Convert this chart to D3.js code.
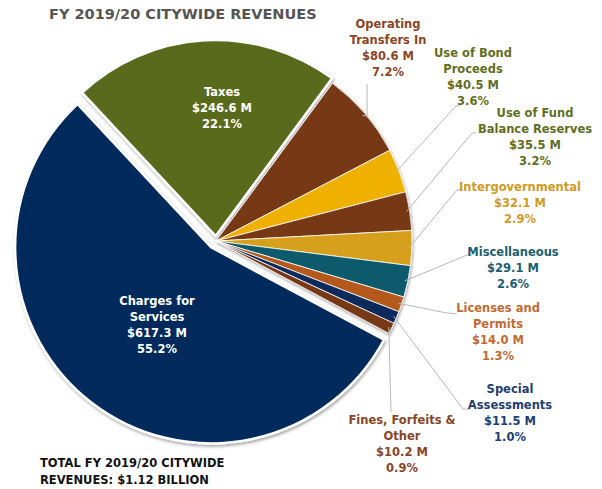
<!DOCTYPE html>
<html>
<head>
<meta charset="utf-8">
<script src="https://cdn.jsdelivr.net/npm/d3@7/dist/d3.min.js"></script>
<style>
  html, body { margin: 0; padding: 0; background: #fff; }
  svg { display: block; }
  text { font-family: "DejaVu Sans", sans-serif; font-weight: bold; }
</style>
</head>
<body>
<svg id="chart" width="602" height="489"></svg>
<script>
// ---- data ----
const categories = ["Taxes", "Operating Transfers In", "Use of Bond Proceeds", "Use of Fund Balance Reserves",
  "Intergovernmental", "Miscellaneous", "Licenses and Permits", "Special Assessments",
  "Fines, Forfeits & Other", "Charges for Services"];
const valuesM = [246.6, 80.6, 40.5, 35.5, 32.1, 29.1, 14.0, 11.5, 10.2, 617.3];
const amountLabels = ["$246.6 M", "$80.6 M", "$40.5 M", "$35.5 M", "$32.1 M", "$29.1 M", "$14.0 M", "$11.5 M", "$10.2 M", "$617.3 M"];
const percentLabels = ["22.1%", "7.2%", "3.6%", "3.2%", "2.9%", "2.6%", "1.3%", "1.0%", "0.9%", "55.2%"];
const nameLines = [["Taxes"], ["Operating", "Transfers In"], ["Use of Bond", "Proceeds"], ["Use of Fund", "Balance Reserves"],
  ["Intergovernmental"], ["Miscellaneous"], ["Licenses and", "Permits"], ["Special", "Assessments"],
  ["Fines, Forfeits &", "Other"], ["Charges for", "Services"]];
const sliceColors = ["#5a6a1e", "#773919", "#f0b000", "#773919", "#d6a01c", "#0f5a6c", "#b5581f", "#0b2c5c", "#773919", "#042b5b"];
const textColors = ["#ffffff", "#8a4526", "#5f6e22", "#5f6e22", "#cf9a1e", "#1a5e72", "#c26a32", "#1f3d70", "#8a4526", "#ffffff"];
const titleText = "FY 2019/20 CITYWIDE REVENUES";
const totalLines = ["TOTAL FY 2019/20 CITYWIDE", "REVENUES: $1.12 BILLION"];

// ---- layout ----
const svg = d3.select("#chart");
const cx = 216, cy = 241, R = 196;
const explode = [5, 0, 0, 0, 0, 0, 0, 0, 0, 8];
const data = categories.map((c, i) => ({ name: c, value: valuesM[i], i }));

const pie = d3.pie().sort(null).value(d => d.value)
  .startAngle(-43 * Math.PI / 180).endAngle((360 - 43) * Math.PI / 180);
const arcs = pie(data);
const arc = d3.arc().innerRadius(0).outerRadius(R);

const defs = svg.append("defs");
const f = defs.append("filter").attr("id", "sh").attr("x", "-10%").attr("y", "-10%").attr("width", "120%").attr("height", "120%");
f.append("feDropShadow").attr("dx", 1).attr("dy", 2).attr("stdDeviation", 1.8).attr("flood-color", "#000").attr("flood-opacity", 0.35);

const g = svg.append("g").attr("transform", `translate(${cx},${cy})`);
const pg = g.append("g").attr("filter", "url(#sh)");
pg.selectAll("path").data(arcs).join("path")
  .attr("d", arc)
  .attr("fill", d => sliceColors[d.data.i])
  .attr("stroke", "#fff")
  .attr("stroke-width", d => explode[d.data.i] ? 2.5 : 0.8)
  .attr("transform", d => {
    const m = (d.startAngle + d.endAngle) / 2, e = explode[d.data.i];
    return `translate(${e * Math.sin(m)},${-e * Math.cos(m)})`;
  });

// ---- leader lines (from slice edge to label) ----
const outerPt = (d, r) => { const m = (d.startAngle + d.endAngle) / 2; return [cx + r * Math.sin(m), cy - r * Math.cos(m)]; };
// label positions: [centerX, firstLineY]
const labelPos = [[222, 92], [388, 24], [473, 53], [535, 113], [520, 187], [513, 252], [498, 308], [510, 389], [402, 420], [157, 301]];
// elbow points for each leader (null for inside labels)
const elbows = [null, [[367, 116], [367, 84]], [[456, 106], [460, 106]], [[472, 133], [476, 133]],
  [[457, 190], [463, 190]], [[467, 255], [472, 255]], [[447, 313], [457, 314]], [[463, 409], [470, 409]],
  [[391, 412]], null];
const lg = svg.append("g");
arcs.forEach(d => {
  const e = elbows[d.data.i];
  if (!e) return;
  const p0 = outerPt(d, R - 3);
  const pts = [p0].concat(e);
  lg.append("path").attr("d", d3.line()(pts)).attr("fill", "none").attr("stroke", "#b8b8b8").attr("stroke-width", 1);
});

// ---- labels ----
const lh = 16;
arcs.forEach(d => {
  const i = d.data.i;
  const lines = nameLines[i].concat([amountLabels[i], percentLabels[i]]);
  const t = svg.append("text").attr("text-anchor", "middle").attr("fill", textColors[i])
    .attr("font-size", 11.5);
  lines.forEach((s, k) => {
    t.append("tspan").attr("x", labelPos[i][0]).attr("y", labelPos[i][1] + k * lh).attr("dy", "0.35em").text(s);
  });
});

// ---- title & total ----
svg.append("text").attr("x", 49).attr("y", 14).attr("dy", "0.35em").attr("fill", "#555")
  .attr("font-size", 14.5).text(titleText);
const tt = svg.append("text").attr("fill", "#111").attr("font-size", 11.5);
totalLines.forEach((s, k) => tt.append("tspan").attr("x", 40).attr("y", 463 + k * 17).attr("dy", "0.35em").text(s));
</script>
</body>
</html>
